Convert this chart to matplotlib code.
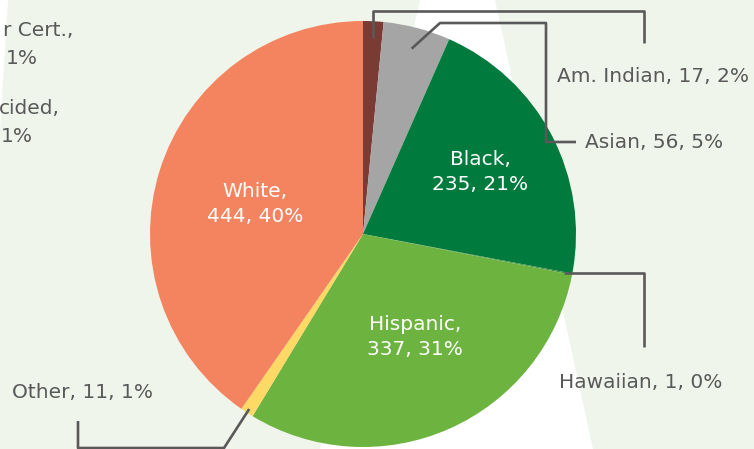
import numpy as np
import matplotlib
matplotlib.use("Agg")
import matplotlib.pyplot as plt
from matplotlib.patches import Polygon

# Pie data (clockwise from the top)
groups = ["Am. Indian", "Asian", "Black", "Hawaiian", "Hispanic", "Other", "White"]
counts = [17, 56, 235, 1, 337, 11, 444]
colors = ["#7B3B35", "#A5A5A5", "#007A3D", "#3C8F3F", "#6DB33F", "#FFD966", "#F4845F"]

# visible pieces of the neighbouring chart's labels (cut off at the left edge)
side_parts = [("r Cert.,", 73, 30), ("1%", 38, 58), ("cided,", 60, 108), ("1%", 33, 137)]

W, H = 754, 449
fig = plt.figure(figsize=(W / 100, H / 100), dpi=100)
fig.patch.set_facecolor("#F0F5EC")
ax = fig.add_axes([0, 0, 1, 1])


def py(y):
    # pixel row (from top) -> axis y
    return H - y


# white background band
ax.add_patch(Polygon([(420, py(0)), (495, py(0)), (593, py(449)), (320, py(449))],
                     closed=True, facecolor="white", edgecolor="none", zorder=0))
ax.add_patch(Polygon([(0, py(0)), (8, py(0)), (0, py(130))],
                     closed=True, facecolor="white", edgecolor="none", zorder=0))

cx, cy, R = 363, py(234), 213
ax.pie(counts, colors=colors, startangle=90, counterclock=False,
       center=(cx, cy), radius=R, wedgeprops=dict(linewidth=0), frame=True)
ax.set_xlim(0, W)
ax.set_ylim(0, H)
ax.set_aspect("equal")
ax.axis("off")

total = sum(counts)
pct = [round(c / total * 100) for c in counts]
label_txt = [f"{g}, {c}, {p}%" for g, c, p in zip(groups, counts, pct)]

# mid angle of each wedge (degrees clockwise from top)
cum = np.cumsum([0] + counts)
mid = [(cum[i] + cum[i + 1]) / 2 / total * 360 for i in range(len(counts))]


def wedge_pt(i, frac):
    a = np.radians(mid[i])
    return cx + frac * R * np.sin(a), cy + frac * R * np.cos(a)


font = "DejaVu Sans"
fs = 14.5
grey = "#595959"
lk = dict(color=grey, lw=1.9, solid_capstyle="butt", zorder=5)
tk = dict(color=grey, fontsize=fs, family=font, va="center")

# inside labels
inside = {"Black": (480, 172), "White": (255, 204), "Hispanic": (415, 337)}
for g, (x, y) in inside.items():
    i = groups.index(g)
    ax.text(x, py(y), f"{g},\n{counts[i]}, {pct[i]}%", ha="center", va="center",
            color="white", fontsize=fs, family=font, linespacing=1.4, zorder=6)

# Am. Indian
i = groups.index("Am. Indian")
sx, sy = wedge_pt(i, 0.92)
ax.plot([sx, sx, 644, 644], [sy, py(11), py(11), py(43)], **lk)
ax.text(557, py(77), label_txt[i], ha="left", **tk)

# Asian
i = groups.index("Asian")
sx, sy = wedge_pt(i, 0.9)
ax.plot([sx, 440, 546, 546, 576], [sy, py(23), py(23), py(142), py(142)], **lk)
ax.text(585, py(142), label_txt[i], ha="left", **tk)

# Hawaiian
i = groups.index("Hawaiian")
sx, sy = wedge_pt(i, 0.96)
ax.plot([sx, 644, 644], [sy, sy, py(347)], **lk)
ax.text(559, py(382), label_txt[i], ha="left", **tk)

# Other
i = groups.index("Other")
sx, sy = wedge_pt(i, 0.98)
ax.plot([sx, 224, 78, 78], [sy, py(448), py(448), py(421)], **lk)
ax.text(12, py(392), label_txt[i], ha="left", **tk)

# cut-off labels on the left
for s, x, y in side_parts:
    ax.text(x, py(y), s, ha="right", **tk)

fig.savefig("out.png", dpi=100, facecolor=fig.get_facecolor())
